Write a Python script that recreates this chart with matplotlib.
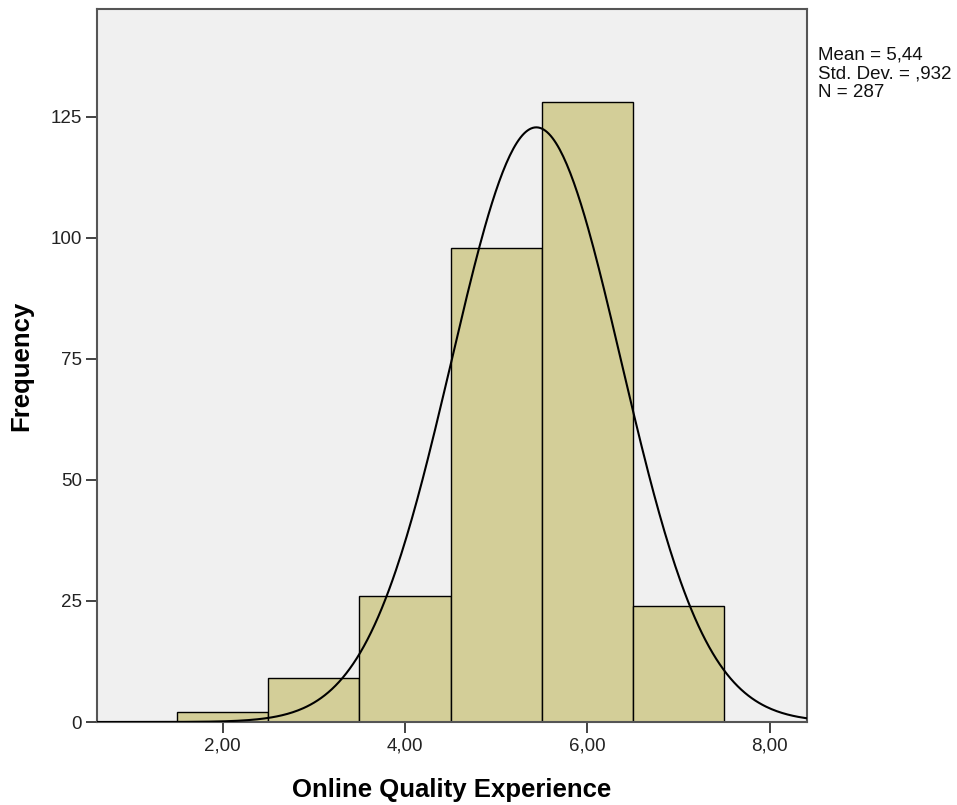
import matplotlib.pyplot as plt
import numpy as np
from matplotlib.ticker import FuncFormatter

plt.rcParams["font.family"] = ["Liberation Sans", "DejaVu Sans"]

# histogram of the score, bins of width 1
bin_edges = [1.5, 2.5, 3.5, 4.5, 5.5, 6.5, 7.5]
counts = [2, 9, 26, 98, 128, 24]
mean = 5.44
std = 0.932
n = 287

fig = plt.figure(figsize=(9.57, 8.05), dpi=100)
ax = fig.add_axes([97 / 957, 1 - 722 / 805, 710 / 957, 713 / 805])
ax.set_facecolor("#f0f0f0")

widths = np.diff(bin_edges)
ax.bar(bin_edges[:-1], counts, width=widths, align="edge",
       color="#d3ce98", edgecolor="black", linewidth=1.0, zorder=2)

# fitted normal curve scaled to counts
x = np.linspace(0.62, 8.41, 400)
y = n * 1.0 * np.exp(-0.5 * ((x - mean) / std) ** 2) / (std * np.sqrt(2 * np.pi))
ax.plot(x, y, color="black", linewidth=1.5, zorder=3)

ax.set_xlim(0.62, 8.41)
ax.set_ylim(0, 147.3)
ax.set_xticks([2, 4, 6, 8])
ax.xaxis.set_major_formatter(FuncFormatter(lambda v, p: ("%.2f" % v).replace(".", ",")))
ax.set_yticks([0, 25, 50, 75, 100, 125])
ax.tick_params(axis="both", direction="out", length=8, width=1.2,
               labelsize=13.5, color="#222222", labelcolor="#222222", pad=3)

for s in ax.spines.values():
    s.set_color("#555555")
    s.set_linewidth(1.5)

ax.set_xlabel("Online Quality Experience", fontsize=18.5, fontweight="bold", labelpad=17)
ax.set_ylabel("Frequency", fontsize=18.5, fontweight="bold", labelpad=12)

fig.text(818 / 957, 1 - 47 / 805, "Mean = 5,44\nStd. Dev. = ,932\nN = 287",
         fontsize=13.5, va="top", ha="left", linespacing=1.13, color="#111111")

fig.savefig("out.png", dpi=100, facecolor="white")
